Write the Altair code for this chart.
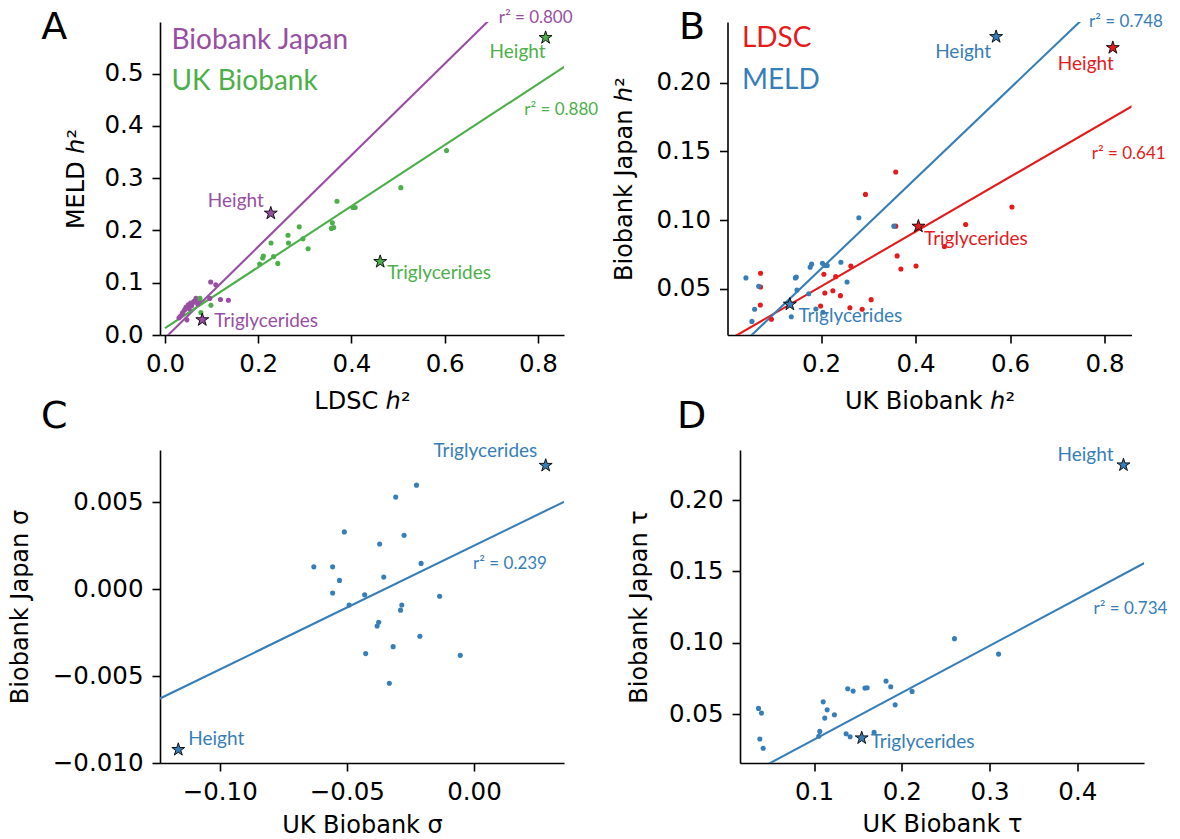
import altair as alt
import pandas as pd

PURPLE, GREEN, RED, BLUE = "#984ea3", "#4daf4a", "#e41a1c", "#377eb8"
STAR = ("M0,-1L0.2245,-0.309L0.951,-0.309L0.363,0.118L0.588,0.809L0,0.382"
        "L-0.588,0.809L-0.363,0.118L-0.951,-0.309L-0.2245,-0.309Z")

# ---------------- Panel A : MELD h2 vs LDSC h2 ----------------
a_bbj_x = [0.098, 0.109, 0.096, 0.119, 0.136, 0.0665, 0.063, 0.074, 0.070, 0.060, 0.055,
           0.057, 0.050, 0.0485, 0.045, 0.052, 0.042, 0.038, 0.037, 0.033, 0.047, 0.030]
a_bbj_y = [0.1015, 0.096, 0.070, 0.068, 0.0665, 0.070, 0.065, 0.068, 0.060, 0.062, 0.061,
           0.056, 0.058, 0.0525, 0.053, 0.050, 0.048, 0.043, 0.040, 0.036, 0.029, 0.033]
a_ukb_x = [0.604, 0.506, 0.369, 0.403, 0.408, 0.359, 0.357, 0.362, 0.288, 0.264, 0.296,
           0.2275, 0.265, 0.307, 0.211, 0.2095, 0.233, 0.203, 0.242, 0.075, 0.0985, 0.077]
a_ukb_y = [0.353, 0.282, 0.256, 0.244, 0.244, 0.2146, 0.204, 0.2056, 0.207, 0.191, 0.184,
           0.176, 0.176, 0.165, 0.151, 0.1475, 0.150, 0.136, 0.137, 0.070, 0.057, 0.043]
a_bbj_star_x = [0.227, 0.080]
a_bbj_star_y = [0.233, 0.029]
a_ukb_star_x = [0.8165, 0.4617]
a_ukb_star_y = [0.569, 0.1404]
a_fit_bbj = [0.875, -0.006]
a_fit_ukb = [0.584, 0.013]

# ---------------- Panel B : BBJ h2 vs UKB h2 ----------------
b_ldsc_x = [0.072, 0.072, 0.0715, 0.095, 0.206, 0.231, 0.263, 0.208, 0.225, 0.241, 0.199, 0.261,
            0.287, 0.306, 0.294, 0.358, 0.358, 0.361, 0.369, 0.401, 0.461, 0.506, 0.604]
b_ldsc_y = [0.0614, 0.0514, 0.0383, 0.0279, 0.0607, 0.0589, 0.0667, 0.047, 0.0487, 0.0451, 0.0376,
            0.0363, 0.0352, 0.0422, 0.1187, 0.135, 0.0956, 0.074, 0.0645, 0.0667, 0.0808, 0.0968, 0.1095]
b_meld_x = [0.041, 0.068, 0.0594, 0.0537, 0.1456, 0.1477, 0.149, 0.174, 0.177, 0.180, 0.203,
            0.208, 0.213, 0.242, 0.255, 0.280, 0.354, 0.189, 0.204, 0.137]
b_meld_y = [0.058, 0.0519, 0.0352, 0.0264, 0.058, 0.0587, 0.0492, 0.0465, 0.0658, 0.068, 0.0687,
            0.067, 0.067, 0.0694, 0.055, 0.1017, 0.0956, 0.0354, 0.033, 0.0298]
b_ldsc_star_x = [0.8175, 0.406]
b_ldsc_star_y = [0.2253, 0.0955]
b_meld_star_x = [0.5705, 0.134]
b_meld_star_y = [0.2333, 0.0388]
b_fit_ldsc = [0.199, 0.012]
b_fit_meld = [0.328, -0.001]

# ---------------- Panel C : sigma ----------------
c_x = [-0.0226, -0.0308, -0.0510, -0.0275, -0.0371, -0.0630, -0.0556, -0.0208, -0.0529, -0.0355,
       -0.0556, -0.0430, -0.0491, -0.0284, -0.0289, -0.0375, -0.0381, -0.0135, -0.0213, -0.0318,
       -0.0426, -0.0054, -0.0333]
c_y = [0.00598, 0.00529, 0.00329, 0.00310, 0.00259, 0.00128, 0.00128, 0.00148, 0.00050, 0.00069,
       -0.00022, -0.00033, -0.00091, -0.00091, -0.00121, -0.00191, -0.00212, -0.00041, -0.00271,
       -0.00331, -0.00371, -0.00381, -0.00541]
c_star_x = [0.0282, -0.1163]
c_star_y = [0.00711, -0.00923]
c_fit = [0.0712, 0.0025]

# ---------------- Panel D : tau ----------------
d_x = [0.0367, 0.0401, 0.0382, 0.0420, 0.1104, 0.1149, 0.1122, 0.1232, 0.1065, 0.1054, 0.1384,
       0.1445, 0.158, 0.1605, 0.182, 0.1874, 0.1924, 0.2117, 0.1365, 0.1411, 0.1684, 0.260, 0.3103]
d_y = [0.0542, 0.0509, 0.0328, 0.0263, 0.0588, 0.0532, 0.0474, 0.0498, 0.0381, 0.0347, 0.0679,
       0.0663, 0.0684, 0.0686, 0.0733, 0.0693, 0.0567, 0.0661, 0.0365, 0.0344, 0.0374, 0.1030, 0.0922]
d_star_x = [0.4526, 0.1543]
d_star_y = [0.2245, 0.0335]
d_fit = [0.328, -0.0004]

W, H = 404, 313
ANN = "Lato"
TICKF = "DejaVu Sans"


def line_df(fit, x0, x1):
    xs = [x0, x1]
    return pd.DataFrame({"x": xs, "y": [fit[0] * v + fit[1] for v in xs]})


def panel(xdom, ydom, xvals, yvals, xfmt, yfmt, xtitle, ytitle, ytx, xty, series, fixed, line_x, off=0):
    X = alt.X("x:Q", scale=alt.Scale(domain=xdom, nice=False, zero=False, range=[off, off + W]),
              axis=alt.Axis(values=xvals, format=xfmt, title=xtitle, titleX=off + W / 2, titleY=xty,
                            titleBaseline="alphabetic", titleAngle=0))
    Y = alt.Y("y:Q", scale=alt.Scale(domain=ydom, nice=False, zero=False),
              axis=alt.Axis(values=yvals, format=yfmt, title=ytitle, titleX=ytx, titleY=H / 2,
                            titleBaseline="middle", titleAngle=270, offset=-off))
    layers = []
    for s in series:
        layers.append(alt.Chart(line_df(s["fit"], *line_x)).mark_line(
            clip=True, color=s["color"], strokeWidth=2.1).encode(x=X, y=Y))
    for s in series:
        layers.append(alt.Chart(pd.DataFrame({"x": s["px"], "y": s["py"]})).mark_circle(
            size=26, color=s["color"], opacity=1).encode(x=X, y=Y))
    for s in series:
        layers.append(alt.Chart(pd.DataFrame({"x": s["sx"], "y": s["sy"]})).mark_point(
            shape=STAR, filled=True, fill=s["color"], stroke="black", strokeWidth=0.9,
            size=185, opacity=1).encode(x=X, y=Y))
        for (lab, dx, dy, al), sx, sy in zip(s["labels"], s["sx"], s["sy"]):
            layers.append(alt.Chart(pd.DataFrame({"x": [sx], "y": [sy], "t": [lab]})).mark_text(
                font=ANN, fontSize=19, color=s["color"], align=al, baseline="alphabetic",
                dx=dx, dy=dy).encode(x=X, y=Y, text="t:N"))
    for (txt, px, py, col, fs, fnt, al) in fixed:
        layers.append(alt.Chart(pd.DataFrame({"t": [txt]})).mark_text(
            font=fnt, fontSize=fs, color=col, align=al, baseline="alphabetic").encode(
            x=alt.value(px + off), y=alt.value(py), text="t:N"))
    return alt.layer(*layers).properties(width=W + off, height=H)


A = panel([-0.0107, 0.856], [0, 0.599], [0.0, 0.2, 0.4, 0.6, 0.8], [0.0, 0.1, 0.2, 0.3, 0.4, 0.5],
          ".1f", ".1f", "LDSC ℎ²", "MELD ℎ²", -84, 73,
          [dict(color=PURPLE, px=a_bbj_x, py=a_bbj_y, sx=a_bbj_star_x, sy=a_bbj_star_y, fit=a_fit_bbj,
                labels=[("Height", -7, -6, "right"), ("Triglycerides", 12, 7, "left")]),
           dict(color=GREEN, px=a_ukb_x, py=a_ukb_y, sx=a_ukb_star_x, sy=a_ukb_star_y, fit=a_fit_ukb,
                labels=[("Height", 0, 20.5, "right"), ("Triglycerides", 7, 17, "left")])],
          [("A", -105.7, 16.7, "black", 38, TICKF, "center"),
           ("Biobank Japan", 11.5, 27, PURPLE, 28, ANN, "left"),
           ("UK Biobank", 11.5, 68.4, GREEN, 28, ANN, "left"),
           ("r² = 0.800", 338.7, 0.7, PURPLE, 17, ANN, "left"),
           ("r² = 0.880", 364.3, 92.7, GREEN, 17, ANN, "left")],
          (0.0, 0.9))

B = panel([0.002, 0.857], [0.0165, 0.244], [0.2, 0.4, 0.6, 0.8], [0.05, 0.10, 0.15, 0.20],
          ".1f", ".2f", "UK Biobank ℎ²", "Biobank Japan ℎ²", -103.5, 73,
          [dict(color=RED, px=b_ldsc_x, py=b_ldsc_y, sx=b_ldsc_star_x, sy=b_ldsc_star_y, fit=b_fit_ldsc,
                labels=[("Height", 1, 22, "right"), ("Triglycerides", 5.6, 19, "left")]),
           dict(color=BLUE, px=b_meld_x, py=b_meld_y, sx=b_meld_star_x, sy=b_meld_star_y, fit=b_fit_meld,
                labels=[("Height", -5, 21, "right"), ("Triglycerides", 8.6, 18, "left")])],
          [("B", -35.5, 16.7, "black", 38, TICKF, "center"),
           ("LDSC", 14.4, 25, RED, 28, ANN, "left"),
           ("MELD", 14.4, 66.7, BLUE, 28, ANN, "left"),
           ("r² = 0.748", 361.6, 5, BLUE, 17, ANN, "left"),
           ("r² = 0.641", 364.3, 136.7, RED, 17, ANN, "left")],
          (0.0, 0.9))

C = panel([-0.1235, 0.0354], [-0.0100, 0.0080], [-0.10, -0.05, 0.00], [-0.010, -0.005, 0.000, 0.005],
          ".2f", ".3f", "UK Biobank σ", "Biobank Japan σ", -139.7, 69,
          [dict(color=BLUE, px=c_x, py=c_y, sx=c_star_x, sy=c_star_y, fit=c_fit,
                labels=[("Triglycerides", -8.4, -8.7, "right"), ("Height", 10, -5, "left")])],
          [("C", -105.7, -22, "black", 38, TICKF, "center"),
           ("r² = 0.239", 313.1, 119, BLUE, 17, ANN, "left")],
          (-0.13, 0.04))

D = panel([0.0156, 0.476], [0.016, 0.235], [0.1, 0.2, 0.3, 0.4], [0.05, 0.10, 0.15, 0.20],
          ".1f", ".2f", "UK Biobank τ", "Biobank Japan τ", -100.5, 68,
          [dict(color=BLUE, px=d_x, py=d_y, sx=d_star_x, sy=d_star_y, fit=d_fit,
                labels=[("Height", -10, -4, "right"), ("Triglycerides", 9, 10, "left")])],
          [("D", -48.5, -22, "black", 38, TICKF, "center"),
           ("r² = 0.734", 353.5, 164, BLUE, 17, ANN, "left")],
          (0.0, 0.5), off=12.5)

chart = alt.concat(A, B, C, D, columns=2, bounds="flush",
                   spacing={"row": 115, "column": 163.5}).properties(
    padding={"left": 8, "top": 8, "right": 5, "bottom": 2}, background="white"
).configure_view(stroke=None).configure_axis(
    grid=False, domainColor="black", domainWidth=1.6, tickColor="black", tickWidth=1.6,
    tickSize=8, labelFont=TICKF, labelFontSize=24.5, labelColor="black", labelPadding=9,
    labelFlush=False, labelOverlap=False, titleFont=TICKF, titleFontSize=24,
    titleFontWeight="normal", titleColor="black"
)

chart.save("out.html", embed_options={"renderer": "svg", "actions": False})
